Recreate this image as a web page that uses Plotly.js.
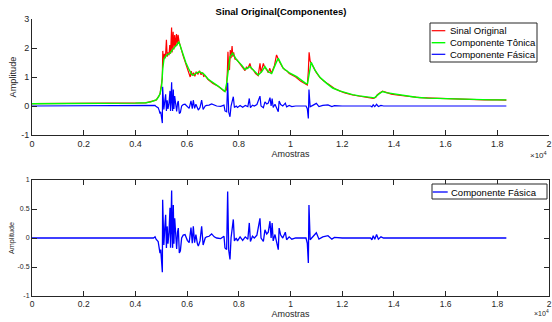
<!DOCTYPE html>
<html>
<head>
<meta charset="utf-8">
<script src="https://cdn.plot.ly/plotly-3.0.1.min.js"></script>
<style>html,body{margin:0;padding:0;background:#fff;}#chart{width:552px;height:322px;}</style>
</head>
<body>
<div id="chart"></div>
<script>
// ---- Data (sample index, amplitude) ----
const sampleOriginal = [0,4400,4800,4950,5040,5060,5080,5120,5160,5200,5230,5260,5300,5330,5360,5400,5420,5460,5490,5520,5550,5590,5620,5650,5690,5850,5950,6000,6040,6080,6120,6160,6200,6250,6300,6350,6420,6480,6540,6600,6640,6700,6800,7000,7200,7450,7520,7560,7580,7610,7640,7670,7700,7740,7770,7800,7850,7920,8000,8050,8100,8200,8240,8300,8340,8430,8480,8560,8650,8750,8820,8860,8950,9000,9080,9140,9200,9260,9320,9380,9460,9520,9560,9620,9700,9780,9850,9950,10050,10200,10400,10550,10650,10690,10720,10760,10800,10900,11000,11140,11300,11500,11700,11900,12100,12400,12700,13000,13200,13300,13350,13450,13560,13700,13900,14100,14500,15000,15500,16000,16500,17000,17500,18000,18350];
const original = [0.08,0.11,0.20,0.40,0.95,1.90,1.55,1.80,1.65,2.28,1.70,1.85,1.75,2.10,1.80,2.71,1.85,2.56,1.95,2.45,2.05,2.48,2.10,2.45,2.22,1.72,1.45,1.35,1.28,1.15,1.00,1.20,1.05,1.15,1.02,1.18,1.10,1.22,1.08,1.15,1.02,1.05,0.92,0.78,0.68,0.50,0.55,1.25,1.87,1.30,1.24,1.93,1.65,2.07,1.70,1.85,1.62,1.60,1.50,1.47,1.40,1.28,1.22,1.35,1.28,1.47,1.30,1.24,1.12,1.05,1.47,1.15,1.47,1.33,1.25,1.15,1.30,1.12,1.25,1.40,1.76,1.60,1.55,1.45,1.32,1.25,1.22,1.12,1.08,1.00,0.85,0.78,0.72,1.20,1.85,1.55,1.48,1.28,1.15,0.98,0.85,0.73,0.60,0.52,0.45,0.38,0.33,0.29,0.26,0.30,0.38,0.45,0.51,0.47,0.41,0.38,0.33,0.29,0.27,0.25,0.23,0.22,0.21,0.21,0.20];

const sampleTonic = [0,1000,2000,3000,4000,4400,4600,4820,4900,4960,5016,5060,5106,5200,5340,5470,5600,5680,5760,5850,5950,6050,6176,6240,6320,6470,6560,6630,6820,7000,7144,7300,7465,7530,7600,7660,7760,7918,8111,8239,8432,8561,8754,8883,9012,9140,9270,9463,9527,9720,9979,10238,10450,10600,10660,10753,10800,10946,11140,11400,11630,11900,12146,12400,12661,13000,13250,13400,13560,13700,14079,14500,14853,15300,15885,16500,17174,17800,18350];
const tonic = [0.08,0.08,0.09,0.09,0.10,0.11,0.14,0.22,0.32,0.45,0.70,1.30,1.62,1.75,1.82,1.98,2.10,2.22,1.98,1.72,1.50,1.30,1.09,1.06,1.12,1.18,1.15,1.12,0.92,0.82,0.72,0.62,0.50,0.78,1.40,1.70,1.82,1.59,1.41,1.26,1.36,1.24,1.07,1.18,1.36,1.18,1.12,1.53,1.64,1.30,1.13,1.01,0.85,0.77,0.78,1.36,1.51,1.24,0.99,0.78,0.62,0.52,0.45,0.39,0.35,0.31,0.28,0.40,0.50,0.46,0.40,0.34,0.30,0.27,0.25,0.23,0.22,0.21,0.21];

const samplePhasic = [0,2000,4000,4500,4700,4760,4800,4880,4920,4951,4980,5000,5030,5042,5054,5080,5100,5140,5170,5200,5230,5260,5300,5338,5360,5380,5402,5420,5440,5467,5490,5520,5560,5596,5630,5660,5699,5740,5789,5850,5920,6009,6080,6150,6200,6240,6290,6340,6400,6434,6500,6563,6620,6700,6756,6850,6949,7050,7144,7300,7427,7465,7530,7569,7610,7659,7700,7788,7830,7900,7950,8050,8150,8250,8350,8406,8450,8530,8600,8700,8819,8860,8950,9012,9080,9140,9206,9250,9290,9330,9400,9527,9560,9620,9700,9750,9800,9850,9950,10050,10200,10400,10600,10650,10690,10714,10760,10880,11000,11100,11250,11450,11600,11700,12000,13100,13150,13200,13260,13330,13400,13500,13600,18350];
const phasic = [0,0,0.01,0.01,0,0.02,-0.02,-0.06,-0.15,-0.26,-0.20,-0.35,-0.45,-0.59,0.66,0.10,-0.12,0.20,0.40,-0.17,0.20,-0.10,0.10,0.52,-0.17,0.30,0.82,0.10,-0.17,0.57,-0.10,0.34,-0.05,-0.19,0.10,0.17,-0.26,-0.22,0.00,0.05,0.06,-0.04,-0.08,0.18,-0.09,0.20,-0.08,0.06,-0.10,-0.14,-0.05,0.20,-0.12,0.00,0.02,0.03,0.07,0.02,0.00,-0.01,0.03,-0.17,-0.20,0.80,-0.21,-0.37,0.00,0.32,-0.05,0.00,-0.05,0.02,-0.04,0.02,-0.02,0.26,-0.06,0.03,0.00,0.05,0.34,0.00,-0.06,0.14,0.07,0.10,0.29,0.00,0.26,-0.05,0.06,-0.20,0.17,0.05,0.00,0.05,0.10,-0.03,0.02,-0.02,0.00,0.00,0.00,-0.09,-0.43,0.57,-0.03,0.03,0.09,-0.02,0.02,0.04,-0.02,0.01,0.00,0.00,-0.03,0.04,-0.02,0.06,-0.02,0.02,0.00,0.00];

const xTickVals = [0,2000,4000,6000,8000,10000,12000,14000,16000,18000,20000];
const xTickText = ['0','0.2','0.4','0.6','0.8','1','1.2','1.4','1.6','1.8','2'];
const yTopTickVals = [-1,0,1,2,3];
const yTopTickText = ['-1','0','1','2','3'];
const yBotTickVals = [-1,-0.5,0,0.5,1];
const yBotTickText = ['-1','-0.5','0','0.5','1'];
const seriesNames = ['Sinal Original','Componente Tônica','Componente Fásica'];
const seriesColors = ['#ff0000','#00ff00','#0000ff'];

// ---- Layout geometry helpers (pixels -> paper) ----
const W = 552, H = 322, ML = 32, MR = 3, MT = 19, MB = 26;
const PW = W - ML - MR, PH = H - MT - MB;
const px = v => (v - ML) / PW;
const py = v => (H - MB - v) / PH;
const FONT = 'Liberation Sans, Arial, Helvetica, sans-serif';
const AX = '#262626';

const traces = [
  {x: sampleOriginal, y: original, name: seriesNames[0], type: 'scatter', mode: 'lines', line: {color: seriesColors[0], width: 1.2}, xaxis: 'x', yaxis: 'y'},
  {x: sampleTonic, y: tonic, name: seriesNames[1], type: 'scatter', mode: 'lines', line: {color: seriesColors[1], width: 1.4}, xaxis: 'x', yaxis: 'y'},
  {x: samplePhasic, y: phasic, name: seriesNames[2], type: 'scatter', mode: 'lines', line: {color: seriesColors[2], width: 1.2}, xaxis: 'x', yaxis: 'y'},
  {x: samplePhasic, y: phasic, name: seriesNames[2], type: 'scatter', mode: 'lines', line: {color: seriesColors[2], width: 1.3}, xaxis: 'x2', yaxis: 'y2'}
];

function xAxis(anchor, mirror, tickSize) {
  return {
    anchor: anchor, domain: [0, 1], range: [0, 20000],
    tickmode: 'array', tickvals: xTickVals, ticktext: xTickText,
    ticks: 'inside', ticklen: 5, tickwidth: 1, tickcolor: AX,
    showline: true, linecolor: AX, linewidth: 1, mirror: mirror,
    showgrid: false, zeroline: false, automargin: false,
    tickfont: {family: FONT, size: tickSize, color: AX},
    title: {text: 'Amostras', font: {family: FONT, size: 9, color: AX}, standoff: 1}
  };
}
function yAxis(anchor, domain, range, vals, text, mirror, tickSize, titleSize) {
  return {
    anchor: anchor, domain: domain, range: range,
    tickmode: 'array', tickvals: vals, ticktext: text,
    ticks: 'inside', ticklen: 5, tickwidth: 1, tickcolor: AX,
    showline: true, linecolor: AX, linewidth: 1, mirror: mirror,
    showgrid: false, zeroline: false, automargin: false,
    tickfont: {family: FONT, size: tickSize, color: AX},
    title: {text: 'Amplitude', font: {family: FONT, size: titleSize, color: AX}, standoff: 2}
  };
}

const shapes = [
  {type: 'rect', xref: 'paper', yref: 'paper', x0: px(430), x1: px(537), y0: py(62), y1: py(23), line: {color: AX, width: 1}, fillcolor: '#ffffff', layer: 'above'},
  {type: 'line', xref: 'paper', yref: 'paper', x0: px(431.7), x1: px(445.3), y0: py(30.7), y1: py(30.7), line: {color: seriesColors[0], width: 1.2}, layer: 'above'},
  {type: 'line', xref: 'paper', yref: 'paper', x0: px(431.7), x1: px(445.3), y0: py(42.7), y1: py(42.7), line: {color: seriesColors[1], width: 1.4}, layer: 'above'},
  {type: 'line', xref: 'paper', yref: 'paper', x0: px(431.7), x1: px(445.3), y0: py(54.3), y1: py(54.3), line: {color: seriesColors[2], width: 1.2}, layer: 'above'},
  {type: 'rect', xref: 'paper', yref: 'paper', x0: px(432), x1: px(547), y0: py(199), y1: py(184), line: {color: AX, width: 1}, fillcolor: '#ffffff', layer: 'above'},
  {type: 'line', xref: 'paper', yref: 'paper', x0: px(432.7), x1: px(447.7), y0: py(192), y1: py(192), line: {color: seriesColors[2], width: 1.3}, layer: 'above'}
];

const legFont = {family: FONT, size: 9.5, color: '#000000'};
const annotations = [
  {xref: 'paper', yref: 'paper', x: px(447.7), y: py(30.7), text: seriesNames[0], showarrow: false, xanchor: 'left', yanchor: 'middle', font: legFont},
  {xref: 'paper', yref: 'paper', x: px(447.7), y: py(42.7), text: seriesNames[1], showarrow: false, xanchor: 'left', yanchor: 'middle', font: legFont},
  {xref: 'paper', yref: 'paper', x: px(447.7), y: py(54.3), text: seriesNames[2], showarrow: false, xanchor: 'left', yanchor: 'middle', font: legFont},
  {xref: 'paper', yref: 'paper', x: px(449), y: py(192), text: seriesNames[2], showarrow: false, xanchor: 'left', yanchor: 'middle', font: legFont},
  {xref: 'paper', yref: 'paper', x: px(528), y: py(155), text: '×10<sup>4</sup>', showarrow: false, xanchor: 'left', yanchor: 'middle', font: {family: FONT, size: 8, color: AX}},
  {xref: 'paper', yref: 'paper', x: px(532), y: py(313), text: '×10<sup>4</sup>', showarrow: false, xanchor: 'left', yanchor: 'middle', font: {family: FONT, size: 7, color: AX}}
];

const layout = {
  width: W, height: H,
  margin: {l: ML, r: MR, t: MT, b: MB, pad: 0},
  paper_bgcolor: '#ffffff', plot_bgcolor: '#ffffff',
  showlegend: false,
  font: {family: FONT, color: AX},
  title: {text: 'Sinal Original(Componentes)', x: 281 / W, xanchor: 'center', xref: 'container', y: 1 - 12 / H, yanchor: 'middle', yref: 'container', font: {family: FONT, size: 9.5, weight: 'bold', color: '#000000'}},
  xaxis: xAxis('y', false, 9),
  yaxis: yAxis('x', [py(135), 1], [-1, 3], yTopTickVals, yTopTickText, false, 9, 9.2),
  xaxis2: xAxis('y2', 'ticks', 8.5),
  yaxis2: yAxis('x2', [0, py(180)], [-1, 1], yBotTickVals, yBotTickText, 'ticks', 7, 7.2),
  shapes: shapes,
  annotations: annotations
};

Plotly.newPlot('chart', traces, layout, {staticPlot: true, displayModeBar: false});
</script>
</body>
</html>
